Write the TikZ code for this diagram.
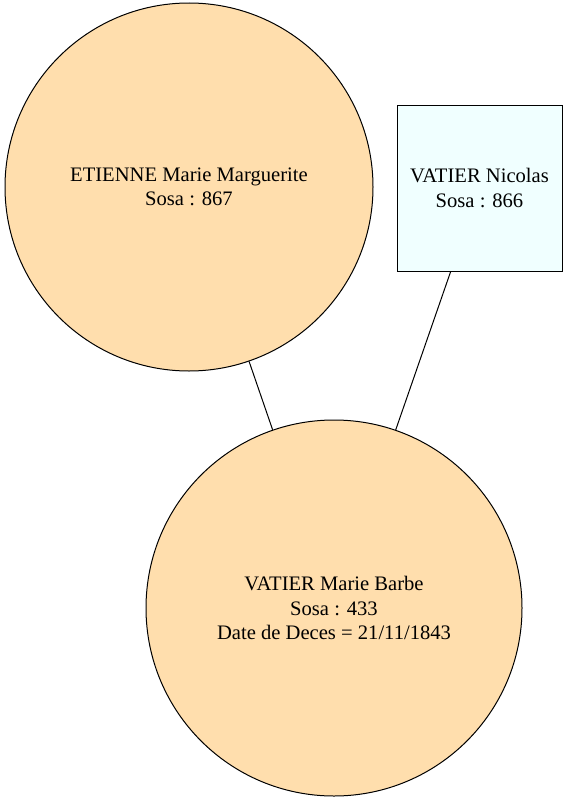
\documentclass[tikz,border=0pt]{standalone}
\usepackage{fontspec}
\setmainfont{Liberation Serif}
\usetikzlibrary{calc}
\definecolor{peach}{HTML}{FFDEAD}
\definecolor{azur}{HTML}{F0FFFF}

\begin{document}
\begin{tikzpicture}[x=1pt, y=-1pt,
		femme/.style={circle, draw, fill=peach, line width=1pt, inner sep=0pt, align=center, font=\fontsize{20.6}{24.5}\selectfont},
		homme/.style={rectangle, draw, fill=azur, line width=1pt, inner sep=0pt, align=center, font=\fontsize{20.6}{24.5}\selectfont}]
		%%%%% START %%%%%
		
		\useasboundingbox (0, 0) rectangle (568, 803);
		
		\node[femme, minimum size=368pt] (etienne) at (189, 187) {ETIENNE Marie Marguerite\\Sosa : 867};
		\node[homme, minimum width=165pt, minimum height=166pt] (nicolas) at (479.5, 188) {VATIER Nicolas\\Sosa : 866};
		\node[femme, minimum size=376pt] (barbe) at (334, 608) {VATIER Marie Barbe\\Sosa : 433\\Date de Deces = 21/11/1843};
		
		\draw[line width=1pt] (etienne) -- (barbe);
		\draw[line width=1pt] (nicolas) -- (barbe);
		
		%%%%% END %%%%%
	\end{tikzpicture}
\end{document}
